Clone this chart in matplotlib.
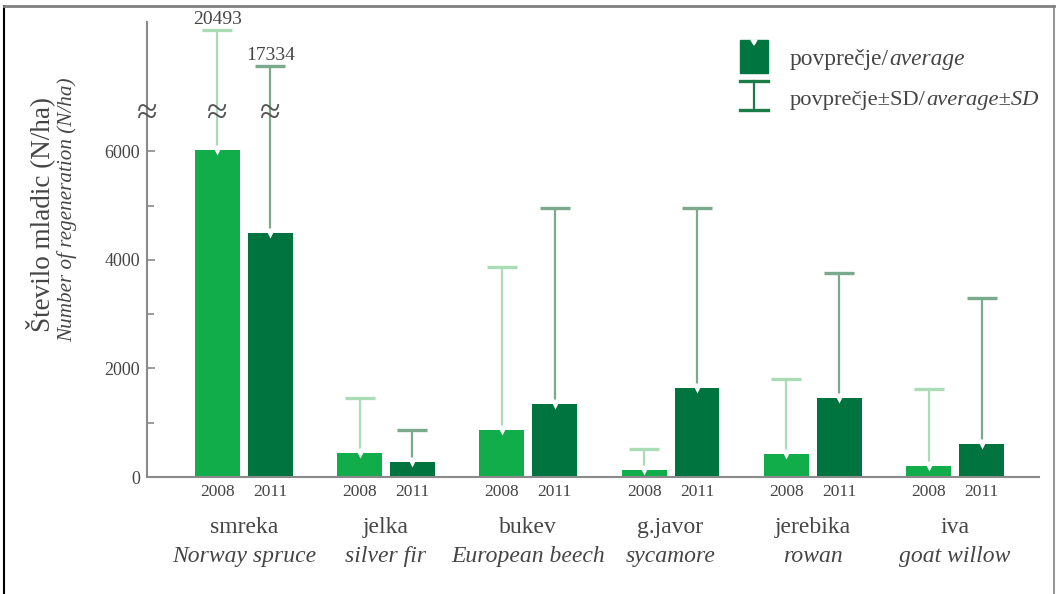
import numpy as np
import matplotlib
matplotlib.use('Agg')
import matplotlib.pyplot as plt
from matplotlib.lines import Line2D
from matplotlib.patches import Rectangle, Polygon

# ---------------- data ----------------
species_sl = ['smreka', 'jelka', 'bukev', 'g.javor', 'jerebika', 'iva']
species_en = ['Norway spruce', 'silver fir', 'European beech', 'sycamore', 'rowan', 'goat willow']
years = ['2008', '2011']
mean_2008 = [6030, 450, 870, 130, 430, 200]
mean_2011 = [4500, 280, 1350, 1640, 1460, 610]
upper_2008 = [20493, 1460, 3860, 520, 1810, 1630]   # average + SD
upper_2011 = [17334, 860, 4950, 4950, 3760, 3290]
yticks = [0, 2000, 4000, 6000]
minor_yticks = [1000, 3000, 5000]

# ---------------- style ----------------
plt.rcParams['font.family'] = ['Liberation Serif', 'DejaVu Serif']
C08 = '#12ad4b'
C11 = '#00743f'
E08 = '#aadcb6'
E11 = '#7aa98b'
AX = '#8a8a8a'
TXT = '#454545'

# broken y axis via function scale
B, G, K, TINY = 6665.0, 13040.0, 0.2105, 1e-3
C = B + (G - B) * TINY


def fwd(v):
    v = np.asarray(v, dtype=float)
    return np.where(v <= B, v, np.where(v < G, B + (v - B) * TINY, C + (v - G) * K))


def inv(u):
    u = np.asarray(u, dtype=float)
    return np.where(u <= B, u, np.where(u < C, B + (u - B) / TINY, G + (u - C) / K))


W, H = 1056, 594
fig = plt.figure(figsize=(W / 100, H / 100), dpi=100)
ax = fig.add_axes([147 / W, 1 - 477 / H, (1039 - 147) / W, (477 - 22) / H])
ax.set_yscale('function', functions=(fwd, inv))
ax.set_ylim(0, float(inv(8381)))
ax.set_xlim(-0.68, 5.59)

x = np.arange(len(species_sl))
off, bw = 0.186, 0.316
series = [(-off, mean_2008, upper_2008, C08, E08), (off, mean_2011, upper_2011, C11, E11)]
for dx, m, up, cb, ce in series:
    xp = x + dx
    ax.bar(xp, m, bw, color=cb, zorder=2)
    ax.vlines(xp, m, up, color=ce, lw=1.6, zorder=3)
    ax.plot(xp, up, ls='none', marker='_', ms=22, mew=2.4, color=ce, zorder=3)
    ax.plot(xp, m, ls='none', marker='v', ms=7, color='white', mec='none', zorder=4)
    # labels for the broken (very tall) error bars
    for xi, ui in zip(xp, up):
        if ui > B:
            ax.annotate(f'{ui}', (xi, ui), xytext=(0, 1), textcoords='offset points',
                        ha='center', va='bottom', fontsize=14, color=TXT)
            ax.text(xi, B, '\u2248', ha='center', va='center', fontsize=27, color='#555555', zorder=5)

# break mark on the y-axis
ax.text(0, B, '\u2248', transform=ax.get_yaxis_transform(), ha='center', va='center',
        fontsize=27, color='#555555', zorder=5, clip_on=False)

# spines / ticks
for s in ['top', 'right']:
    ax.spines[s].set_visible(False)
for s in ['left', 'bottom']:
    ax.spines[s].set_color(AX)
    ax.spines[s].set_linewidth(1.5)
ax.set_yticks(yticks)
ax.set_yticklabels([str(t) for t in yticks])
ax.set_yticks(minor_yticks, minor=True)
ax.tick_params(axis='y', which='major', direction='in', length=6, width=1.2, color=AX,
               labelsize=13, labelcolor=TXT, pad=5)
ax.tick_params(axis='y', which='minor', direction='in', length=5, width=1.2, color=AX)
ax.set_xticks([])

# year labels and species labels
xt = ax.get_xaxis_transform()
for i in range(len(x)):
    for dx, yr in zip([-off, off], years):
        ax.text(x[i] + dx, -0.033, yr, transform=xt, ha='center', va='center', fontsize=12.5, color=TXT)
    ax.text(x[i], -0.110, species_sl[i], transform=xt, ha='center', va='center', fontsize=17, color=TXT)
    ax.text(x[i], -0.174, species_en[i], transform=xt, ha='center', va='center', fontsize=17,
            style='italic', color=TXT)

# y labels
fig.text(40 / W, 1 - 214 / H, '\u0160tevilo mladic (N/ha)', rotation=90, ha='center', va='center',
         fontsize=19.5, color=TXT)
fig.text(67 / W, 1 - 210 / H, 'Number of regeneration (N/ha)', rotation=90, ha='center', va='center',
         fontsize=15.2, style='italic', color=TXT)

# legend (manual)
LG = '#1b7c47'
fig.patches.append(Rectangle((740 / W, 1 - 73 / H), 28 / W, 33 / H, transform=fig.transFigure,
                             color='#00753f', zorder=2))
fig.patches.append(Polygon([(751 / W, 1 - 40 / H), (757 / W, 1 - 40 / H), (754 / W, 1 - 45 / H)],
                           closed=True, transform=fig.transFigure, color='white', zorder=3))
fig.add_artist(Line2D([754 / W, 754 / W], [1 - 81 / H, 1 - 110 / H], color=LG, lw=1.6))
fig.add_artist(Line2D([740 / W, 768 / W], [1 - 81 / H, 1 - 81 / H], color=LG, lw=2.4))
fig.add_artist(Line2D([740 / W, 768 / W], [1 - 110 / H, 1 - 110 / H], color=LG, lw=2.4))

t1 = fig.text(790 / W, 1 - 60 / H, 'povpre\u010dje/', ha='left', va='center', fontsize=16.8, color=TXT)
ax.annotate('average', xy=(1, 0), xycoords=t1, ha='left', va='bottom', fontsize=16.8,
            style='italic', color=TXT, annotation_clip=False)
t2 = fig.text(790 / W, 1 - 101 / H, 'povpre\u010dje\u00b1SD/', ha='left', va='center', fontsize=16.2, color=TXT)
ax.annotate('average\u00b1SD', xy=(1, 0), xycoords=t2, ha='left', va='bottom', fontsize=16.2,
            style='italic', color=TXT, annotation_clip=False)

# figure frame
fig.add_artist(Line2D([4 / W, 4 / W], [0, 1 - 6 / H], color='black', lw=1.5))
fig.add_artist(Line2D([4 / W, 1054 / W], [1 - 6 / H, 1 - 6 / H], color='#808080', lw=2))
fig.add_artist(Line2D([1054 / W, 1054 / W], [0, 1 - 6 / H], color='#808080', lw=1.2))

fig.savefig('out.png', dpi=100)
